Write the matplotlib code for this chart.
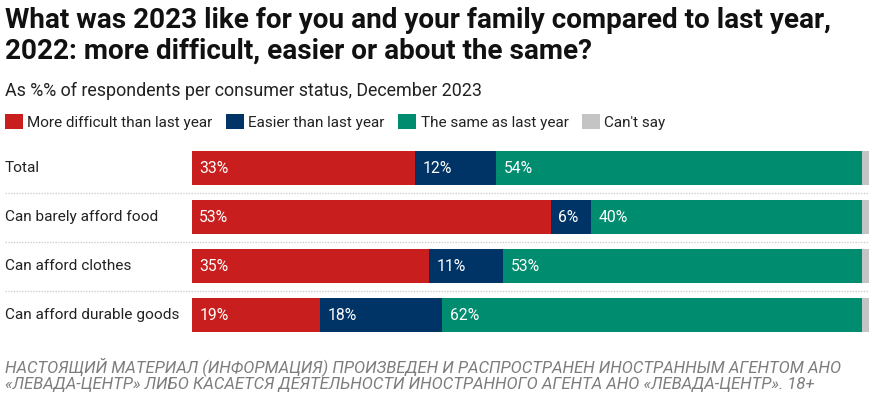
import matplotlib.pyplot as plt
from matplotlib.patches import Patch

plt.rcParams['font.family'] = ['Roboto', 'DejaVu Sans']

# data
categories = ["Total", "Can barely afford food", "Can afford clothes", "Can afford durable goods"]
series_names = ["More difficult than last year", "Easier than last year",
                "The same as last year", "Can't say"]
more_difficult = [33, 53, 35, 19]
easier = [12, 6, 11, 18]
same = [54, 40, 53, 62]
cant_say = [1, 1, 1, 1]
colors = ["#c81e1e", "#003366", "#008c6f", "#c4c4c4"]

title_lines = ["What was 2023 like for you and your family compared to last year,",
               "2022: more difficult, easier or about the same?"]
footer_lines = ["НАСТОЯЩИЙ МАТЕРИАЛ (ИНФОРМАЦИЯ) ПРОИЗВЕДЕН И РАСПРОСТРАНЕН ИНОСТРАННЫМ АГЕНТОМ АНО",
                "«ЛЕВАДА-ЦЕНТР» ЛИБО КАСАЕТСЯ ДЕЯТЕЛЬНОСТИ ИНОСТРАННОГО АГЕНТА АНО «ЛЕВАДА-ЦЕНТР». 18+"]

W, H = 873, 395
fig = plt.figure(figsize=(W / 100, H / 100), dpi=100)

# bar area in pixels
left, right, top, bottom = 191.7, 869, 143.8, 339.8
ax = fig.add_axes([left / W, 1 - bottom / H, (right - left) / W, (bottom - top) / H])

series = [more_difficult, easier, same, cant_say]
ys = list(range(len(categories)))
start = [0] * len(categories)
for vals, col in zip(series, colors):
    ax.barh(ys, vals, left=start, height=0.69, color=col, edgecolor="none")
    for y, s, v in zip(ys, start, vals):
        if v >= 5:
            ax.text(s + 1.1, y, f"{v}%", color="white", fontsize=11.3, va="center", ha="left")
    start = [s + v for s, v in zip(start, vals)]

ax.set_xlim(0, 100)
ax.set_ylim(len(categories) - 0.5, -0.5)
ax.axis("off")

# row labels and dotted separators
lx = (5 - left) / (right - left)
for y, name in zip(ys, categories):
    ax.text(lx, y, name, transform=ax.get_yaxis_transform(), fontsize=11.1,
            va="center", ha="left", color="#222222")
for y in ys[:-1]:
    ax.axhline(y + 0.5, xmin=lx, xmax=1, color="#cfcfcf", lw=1, ls=(0, (1, 1)), clip_on=False)

# title, subtitle
for base, line in zip([28, 59], title_lines):
    fig.text(5 / W, 1 - base / H, line, fontsize=20.1, fontweight="bold",
             va="baseline", ha="left", color="#111111")
fig.text(5 / W, 1 - 96 / H, "As %% of respondents per consumer status, December 2023",
         fontsize=12.9, va="baseline", ha="left", color="#222222")

# legend
handles = [Patch(facecolor=c, edgecolor="none") for c in colors]
fig.legend(handles, series_names, loc="upper left", bbox_to_anchor=(5 / W, 1 - 114 / H),
           ncol=4, frameon=False, fontsize=11, handlelength=1.15, handleheight=1.15,
           handletextpad=0.3, columnspacing=0.9, borderpad=0, borderaxespad=0,
           labelcolor="#222222")

# footer
for base, line in zip([372, 389], footer_lines):
    fig.text(5 / W, 1 - base / H, line, fontsize=12, style="italic", color="#7d7d7d",
             va="baseline", ha="left")

fig.savefig("out.png", dpi=100)
